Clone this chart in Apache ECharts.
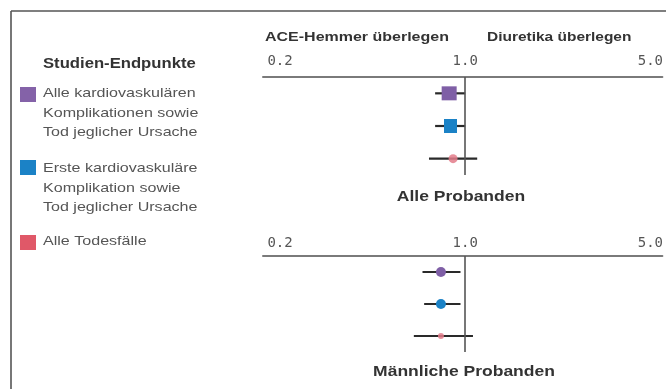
<!DOCTYPE html>
<html>
<head>
<meta charset="utf-8">
<script src="https://cdn.jsdelivr.net/npm/echarts@6/dist/echarts.min.js"></script>
<style>html,body{margin:0;padding:0;background:#fff}#c{width:666px;height:389px}</style>
</head>
<body>
<div id="c"></div>
<script>
// ---- data ----
const endpoints = ['Alle kardiovaskulären\nKomplikationen sowie\nTod jeglicher Ursache',
                   'Erste kardiovaskuläre\nKomplikation sowie\nTod jeglicher Ursache',
                   'Alle Todesfälle'];
const allHR   = [0.87, 0.88, 0.90];
const allLow  = [0.77, 0.77, 0.73];
const allHigh = [1.00, 1.00, 1.11];
const menHR   = [0.81, 0.81, 0.81];
const menLow  = [0.69, 0.70, 0.64];
const menHigh = [0.96, 0.96, 1.07];
const tickValues = [0.2, 1.0, 5.0];
const axisRange = [0.1725, 5.55];
const panelTitles = ['Alle Probanden', 'Männliche Probanden'];
const headerLeft = 'ACE-Hemmer überlegen';
const headerRight = 'Diuretika überlegen';
const legendTitle = 'Studien-Endpunkte';

// ---- style ----
const colors = ['#7f5fa6', '#1b82c6', '#e37b8a'];
const legendColors = ['#8462a8', '#1b82c6', '#e05868'];
const allSizes = [[15, 14], [13, 14], 9];
const allSymbols = ['rect', 'rect', 'circle'];
const menSizes = [10, 10, 6];
const menSymbols = ['circle', 'circle', 'circle'];

const L = v => Math.log10(v);
const cats = [0, 1, 2];

const font = '"Liberation Sans", Arial, sans-serif';

function xAxisCfg(gi) {
  return {
    gridIndex: gi, type: 'value', position: 'top',
    min: L(axisRange[0]), max: L(axisRange[1]),
    axisLine: {show: true, lineStyle: {color: '#7a7a7a', width: 2}},
    axisTick: {show: false},
    splitLine: {show: false},
    axisLabel: {
      customValues: tickValues.map(L),
      formatter: v => Math.pow(10, v).toFixed(1),
      color: '#555', fontFamily: '"DejaVu Sans Mono", monospace', fontSize: 14,
      margin: gi === 0 ? 9 : 6
    }
  };
}
function yAxisCfg(gi) {
  return {gridIndex: gi, type: 'category', data: cats, inverse: true,
          show: false, boundaryGap: true};
}
function ciSeries(gi, hr, lo, hi) {
  return {
    type: 'custom', xAxisIndex: gi, yAxisIndex: gi, z: 2,
    data: cats.map(i => [L(lo[i]), i, L(hi[i])]),
    encode: {x: [0, 2], y: 1},
    renderItem: (params, api) => {
      const a = api.coord([api.value(0), api.value(1)]);
      const b = api.coord([api.value(2), api.value(1)]);
      return {type: 'line', shape: {x1: a[0], y1: a[1], x2: b[0], y2: b[1]},
              style: {stroke: '#2a2a2a', lineWidth: 2.2}};
    }
  };
}
function pointSeries(gi, hr, sizes, symbols) {
  return {
    type: 'scatter', xAxisIndex: gi, yAxisIndex: gi, z: 3,
    data: cats.map(i => ({value: [L(hr[i]), i], symbol: symbols[i], symbolSize: sizes[i],
                          itemStyle: {color: colors[i], opacity: i === 2 ? 0.85 : 1}})),
    markLine: {silent: true, symbol: 'none', label: {show: false},
               lineStyle: {color: '#555', width: 1.6, type: 'solid'},
               data: [{xAxis: 0}]}
  };
}

const graphic = [
  {type: 'line', shape: {x1: 11, y1: 11, x2: 700, y2: 11}, style: {stroke: '#555', lineWidth: 1.6}},
  {type: 'line', shape: {x1: 11, y1: 11, x2: 11, y2: 400}, style: {stroke: '#555', lineWidth: 1.6}},
  {type: 'text', x: 265, y: 31, scaleX: 1.23, style: {text: headerLeft, font: 'bold 13px ' + font, fill: '#333', verticalAlign: 'top'}},
  {type: 'text', x: 487, y: 31, scaleX: 1.19, style: {text: headerRight, font: 'bold 13px ' + font, fill: '#333', verticalAlign: 'top'}},
  {type: 'text', x: 461, y: 197, scaleX: 1.25, style: {text: panelTitles[0], font: 'bold 14px ' + font, fill: '#333', align: 'center', verticalAlign: 'middle'}},
  {type: 'text', x: 464, y: 372, scaleX: 1.25, style: {text: panelTitles[1], font: 'bold 14px ' + font, fill: '#333', align: 'center', verticalAlign: 'middle'}},
  {type: 'text', x: 43, y: 57, scaleX: 1.19, style: {text: legendTitle, font: 'bold 14px ' + font, fill: '#333', verticalAlign: 'top'}}
];
const legendTops = [87, 160, 235];
const legendTextTops = [84, 159, 232];
endpoints.forEach((name, i) => {
  graphic.push({type: 'rect', shape: {x: 20, y: legendTops[i], width: 16, height: 15}, style: {fill: legendColors[i]}});
  graphic.push({type: 'text', x: 43, y: legendTextTops[i], scaleX: 1.19,
                style: {text: name, font: '13.5px ' + font, fill: '#555', lineHeight: 19.5, verticalAlign: 'top'}});
});

const chart = echarts.init(document.getElementById('c'), null, {renderer: 'canvas'});
chart.setOption({
  animation: false,
  backgroundColor: '#fff',
  grid: [
    {left: 263, right: 0, top: 77, height: 98},
    {left: 263, right: 0, top: 256, height: 96}
  ],
  xAxis: [xAxisCfg(0), xAxisCfg(1)],
  yAxis: [yAxisCfg(0), yAxisCfg(1)],
  series: [
    ciSeries(0, allHR, allLow, allHigh),
    pointSeries(0, allHR, allSizes, allSymbols),
    ciSeries(1, menHR, menLow, menHigh),
    pointSeries(1, menHR, menSizes, menSymbols)
  ],
  graphic: graphic
});
</script>
</body>
</html>
